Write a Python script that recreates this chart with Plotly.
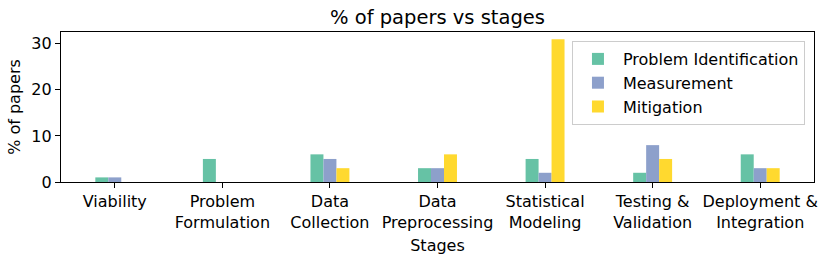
import plotly.graph_objects as go

stages = ["Viability", "Problem<br>Formulation", "Data<br>Collection", "Data<br>Preprocessing",
          "Statistical<br>Modeling", "Testing &<br>Validation", "Deployment &<br>Integration"]
problem_identification = [1, 5, 6, 3, 5, 2, 6]
measurement = [1, 0, 5, 3, 2, 8, 3]
mitigation = [0, 0, 3, 6, 31, 5, 3]

series = [("Problem Identification", problem_identification, "#66c2a5"),
          ("Measurement", measurement, "#8da0cb"),
          ("Mitigation", mitigation, "#ffd92f")]

xs = list(range(len(stages)))
fig = go.Figure()
for name, vals, col in series:
    fig.add_trace(go.Bar(x=xs, y=vals, name=name, marker=dict(color=col, line=dict(width=0))))

font = "DejaVu Sans"
fig.update_layout(
    width=830, height=265,
    margin=dict(l=61, r=14, t=32, b=83),
    paper_bgcolor="white", plot_bgcolor="white",
    barmode="group", bargap=0.638, bargroupgap=0,
    font=dict(family=font, size=16, color="black"),
    title=dict(text="% of papers vs stages", x=0.5, xanchor="center", xref="paper",
               y=1 - 17/265, yanchor="middle", font=dict(size=19.5)),
    showlegend=True,
    legend=dict(x=0.988, xanchor="right", y=0.94, yanchor="top",
                bordercolor="#cccccc", borderwidth=1, bgcolor="rgba(255,255,255,0.8)",
                font=dict(size=16), tracegroupgap=0, itemwidth=40),
)
fig.update_xaxes(
    range=[-0.5, 6.5], tickmode="array", tickvals=xs, ticktext=stages,
    showline=True, linecolor="black", linewidth=1.2, mirror=True,
    ticks="outside", ticklen=5, tickcolor="black", showgrid=False, zeroline=False,
    tickfont=dict(size=16),
    title=dict(text="Stages", font=dict(size=16), standoff=8),
)
fig.update_yaxes(
    range=[0, 32.55], tickvals=[0, 10, 20, 30],
    showline=True, linecolor="black", linewidth=1.2, mirror=True,
    ticks="outside", ticklen=5, tickcolor="black", showgrid=False, zeroline=False,
    tickfont=dict(size=16),
    title=dict(text="% of papers", font=dict(size=16), standoff=6),
)
fig.write_html("out.html", config={"displayModeBar": False},
               post_script="document.body.style.margin='0';")
